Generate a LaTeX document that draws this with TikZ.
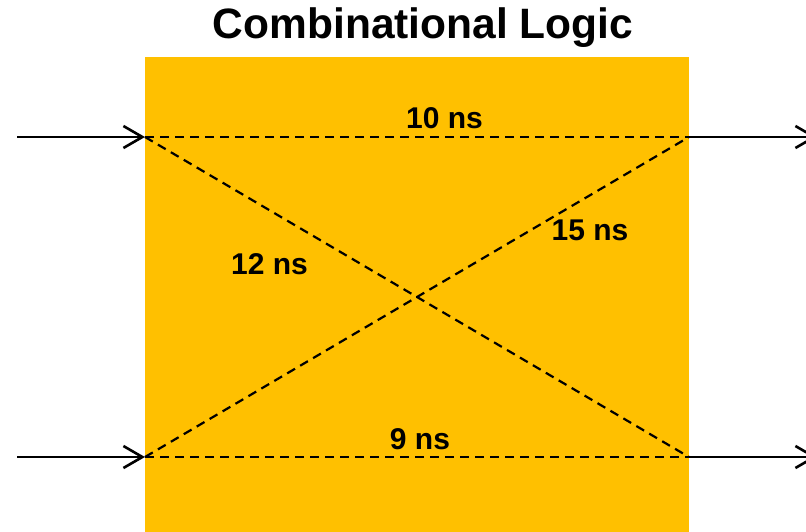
\documentclass[tikz,border=0pt]{standalone}
\usepackage{fontspec}
\setmainfont{Liberation Sans}
\usetikzlibrary{arrows.meta}
\definecolor{logicorange}{RGB}{255,192,0}
\tikzset{
  path/.style={line width=2.2pt,dash pattern=on 9pt off 6pt},
  wire/.style={line width=2.2pt,-{Straight Barb[length=19pt,width=22pt,line width=2.6pt]}},
  delay/.style={anchor=base,font=\bfseries\fontsize{30}{36}\selectfont}
}
\begin{document}
\begin{tikzpicture}[x=1pt,y=-1pt]
\useasboundingbox (0,0) rectangle (806,532);
% combinational block
\fill[logicorange] (145,57) rectangle (689,545);
\node[anchor=base,font=\bfseries\fontsize{42.5}{50}\selectfont] (title) at (423,39) {Combinational Logic};
\coordinate (inA) at (145,137);
\coordinate (inB) at (145,457);
\coordinate (outA) at (689,137);
\coordinate (outB) at (689,457);
\coordinate (srcA) at (17,137);
\coordinate (srcB) at (17,457);
\coordinate (dstA) at (817,137);
\coordinate (dstB) at (817,457);
% input and output wires
\draw[wire] (srcA) -- (inA);
\draw[wire] (srcB) -- (inB);
\draw[wire] (outA) -- (dstA);
\draw[wire] (outB) -- (dstB);
% timing paths
\draw[path] (inA) -- (outA);
\draw[path] (inB) -- (outB);
\draw[path] (inA) -- (outB);
\draw[path] (inB) -- (outA);
\node[delay] (t10) at (444.5,129) {10 ns};
\node[delay] (t12) at (269.5,274) {12 ns};
\node[delay] (t15) at (590,240) {15 ns};
\node[delay] (t9) at (420,449) {9 ns};
\end{tikzpicture}
\end{document}
